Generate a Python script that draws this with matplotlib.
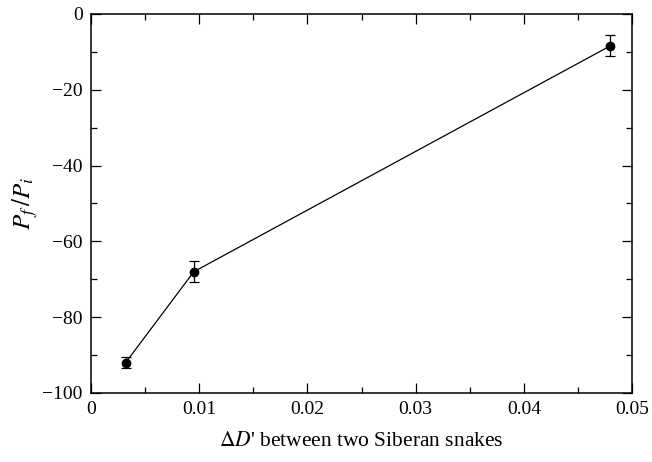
import matplotlib
matplotlib.use("Agg")

import matplotlib.pyplot as plt
from matplotlib.ticker import MultipleLocator

# data
delta_d = [0.0032, 0.0095, 0.0480]
pf_pi = [-92.0, -68.0, -8.4]
pf_err = [1.5, 2.7, 2.8]

x_ticks = [0, 0.01, 0.02, 0.03, 0.04, 0.05]
x_tick_labels = ["0", "0.01", "0.02", "0.03", "0.04", "0.05"]

plt.rcParams["font.family"] = ["Liberation Serif", "DejaVu Serif"]
plt.rcParams["mathtext.fontset"] = "stix"
plt.rcParams["font.size"] = 14

fig = plt.figure(figsize=(6.52, 4.62), dpi=100)
ax = fig.add_axes([0.1396, 0.1494, 0.8297, 0.8203])

ax.errorbar(
    delta_d, pf_pi, yerr=pf_err,
    color="black", linewidth=0.9, marker="o", markersize=6,
    elinewidth=0.9, capsize=3.5, capthick=0.9,
)

ax.set_xlim(0, 0.05)
ax.set_ylim(-100, 0)
ax.set_xticks(x_ticks)
ax.set_xticklabels(x_tick_labels)
ax.xaxis.set_minor_locator(MultipleLocator(0.005))
ax.yaxis.set_major_locator(MultipleLocator(20))
ax.yaxis.set_minor_locator(MultipleLocator(10))

ax.tick_params(which="both", direction="in", top=True, right=True, width=0.9)
ax.tick_params(which="major", length=7, pad=6)
ax.tick_params(which="minor", length=4)
for s in ax.spines.values():
    s.set_linewidth(1.1)

ax.set_xlabel(r"$\Delta D$' between two Siberan snakes", fontsize=15.5, labelpad=10)
ax.set_ylabel(r"$P_f\,/P_i$", fontsize=18, labelpad=2)

fig.savefig("out.png", dpi=100)
plt.close(fig)
